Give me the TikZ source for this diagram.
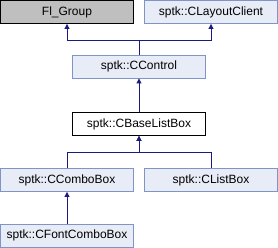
\documentclass[tikz,border=0pt]{standalone}
\usepackage{fontspec}
\setmainfont{Liberation Sans}
\usetikzlibrary{arrows.meta}
\definecolor{boxfill}{HTML}{E8ECF6}
\definecolor{boxline}{HTML}{7F95C8}
\definecolor{arrcol}{HTML}{1A1A80}
\begin{document}
\begin{tikzpicture}[x=1pt,y=1pt,
  cls/.style={draw=boxline,fill=boxfill,line width=0.9pt,minimum width=133pt,minimum height=23pt,inner sep=0pt,font=\fontsize{12}{14}\selectfont},
  base/.style={cls,draw=black,fill=white},
  ext/.style={cls,draw=black,fill=black!25},
  arr/.style={draw=arrcol,line width=0.9pt,-{Triangle[length=5pt,width=5pt]}}]
\useasboundingbox (0,0) rectangle (278,248);
\node[ext] (fl) at (67,236) {Fl\_Group};
\node[cls] (lc) at (211,236) {sptk::CLayoutClient};
\node[cls] (cc) at (139,181.5) {sptk::CControl};
\node[base] (bl) at (139,124) {sptk::CBaseListBox};
\node[cls] (cb) at (67,68) {sptk::CComboBox};
\node[cls] (lb) at (211,68) {sptk::CListBox};
\node[cls] (fc) at (67,12.5) {sptk::CFontComboBox};
\draw[arr] (cc.north) -- ++(0,14) -| (fl.south);
\draw[arr] (cc.north) -- ++(0,14) -| (lc.south);
\draw[arr] (bl.north) -- (cc.south);
\draw[arr] (cb.north) -- ++(0,16) -| (bl.south);
\draw[arr] (lb.north) -- ++(0,16) -| (bl.south);
\draw[arr] (fc.north) -- (cb.south);
\end{tikzpicture}
\end{document}
